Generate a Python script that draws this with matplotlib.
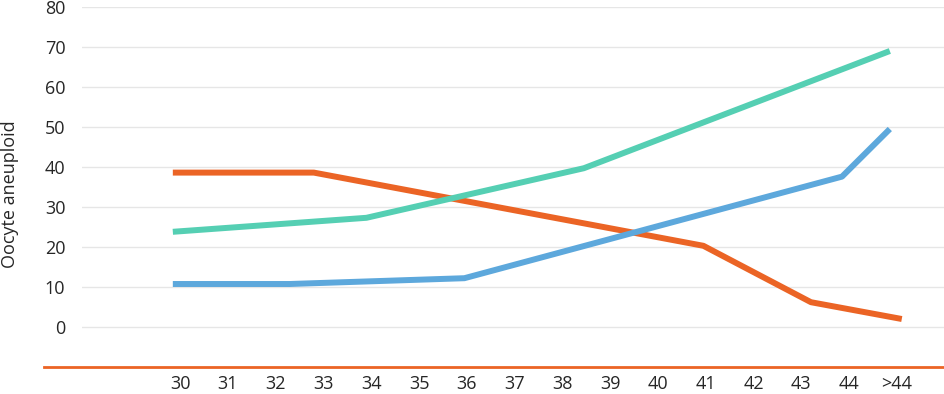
import matplotlib
matplotlib.use("Agg")
import matplotlib.pyplot as plt
from matplotlib.lines import Line2D

plt.rcParams['font.family'] = ['Open Sans', 'DejaVu Sans']

# category tick labels (ages)
age_ticks = [30, 31, 32, 33, 34, 35, 36, 37, 38, 39, 40, 41, 42, 43, 44, 45]
age_labels = ['30', '31', '32', '33', '34', '35', '36', '37', '38', '39',
              '40', '41', '42', '43', '44', '>44']

# series vertices (age position, value)
orange_x = [29.85, 32.8, 40.95, 43.2, 45.1]
orange_y = [38.6, 38.6, 20.3, 6.2, 2.0]

green_x = [29.85, 33.9, 38.45, 44.85]
green_y = [23.8, 27.3, 39.7, 69.0]

blue_x = [29.85, 32.3, 35.95, 43.85, 44.85]
blue_y = [10.75, 10.75, 12.2, 37.6, 49.5]

yticks = [0, 10, 20, 30, 40, 50, 60, 70, 80]

W, H = 944, 394
fig = plt.figure(figsize=(W / 100, H / 100), dpi=100)
ax_left, ax_right = 82, 944
ax_top, ax_bottom = 7, 367
ax = fig.add_axes([ax_left / W, (H - ax_bottom) / H,
                   (ax_right - ax_left) / W, (ax_bottom - ax_top) / H])

px_per_cat = 47.8
x0_px = 180
ax.set_xlim(30 + (ax_left - x0_px) / px_per_cat, 30 + (ax_right - x0_px) / px_per_cat)
ax.set_ylim(-10, 80)

for y in yticks:
    ax.axhline(y, color='#e6e6e6', lw=1.0, zorder=0)

orange = '#EB6425'
green = '#55CFB3'
blue = '#5DA8DC'
lw = 4.3
ax.plot(orange_x, orange_y, color=orange, lw=lw, solid_capstyle='butt', solid_joinstyle='round', zorder=3, clip_on=False)
ax.plot(green_x, green_y, color=green, lw=lw, solid_capstyle='butt', solid_joinstyle='round', zorder=3, clip_on=False)
ax.plot(blue_x, blue_y, color=blue, lw=lw, solid_capstyle='butt', solid_joinstyle='round', zorder=3, clip_on=False)

for s in ax.spines.values():
    s.set_visible(False)

fs = 13
ax.set_yticks(yticks)
ax.set_yticklabels([str(v) for v in yticks], fontsize=fs, color='#262626')
ax.tick_params(axis='y', length=0, pad=12)
ax.set_xticks(age_ticks)
ax.set_xticklabels(age_labels, fontsize=fs, color='#262626')
ax.tick_params(axis='x', length=0, pad=6)

# bottom orange rule
fig.add_artist(Line2D([44 / W, 1.0], [(H - 367) / H, (H - 367) / H],
                      color=orange, lw=2.0, transform=fig.transFigure))

fig.text(10 / W, (H - 194) / H, 'Oocyte aneuploid', rotation=90,
         fontsize=fs, color='#262626', ha='center', va='center')

fig.savefig('out.png', dpi=100)
